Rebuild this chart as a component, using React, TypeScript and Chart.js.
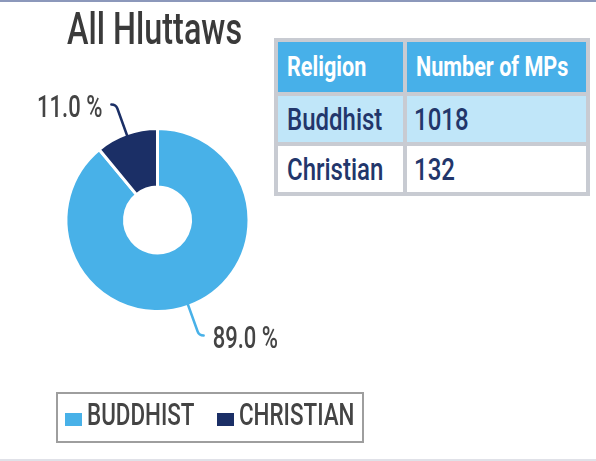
import React, { useEffect, useRef } from 'react';
import { Chart, registerables } from 'chart.js';

Chart.register(...registerables);

// ---- data ----
const titleText = 'All Hluttaws';
const religions = ['Buddhist', 'Christian'];
const sharePercent = [89.0, 11.0];
const mpCounts = [1018, 132];
const tableHeaders = ['Religion', 'Number of MPs'];
const sliceColors = ['#48b1e8', '#1b2f66'];

const FONT = 'Roboto, "Liberation Sans", sans-serif';

let measureCtx: CanvasRenderingContext2D | null = null;
function measure(text: string, font: string): number {
  if (!measureCtx) measureCtx = document.createElement('canvas').getContext('2d');
  measureCtx!.font = font;
  return measureCtx!.measureText(text).width;
}

function Condensed({ text, size, weight = 400, scale, color }: { text: string; size: number; weight?: number; scale: number; color: string }) {
  const w = measure(text, `${weight} ${size}px ${FONT}`) * scale;
  return (
    <span
      style={{
        display: 'inline-block',
        position: 'relative',
        width: w,
        height: size,
        lineHeight: `${size}px`,
        whiteSpace: 'nowrap',
        color,
        fontFamily: FONT,
        fontSize: size,
        fontWeight: weight,
      }}
    >
      <span style={{ position: 'absolute', left: 0, top: 0, transform: `scaleX(${scale})`, transformOrigin: '0 0' }}>{text}</span>
    </span>
  );
}

const leaderPlugin = {
  id: 'leaders',
  afterDatasetsDraw(chart: any) {
    const meta = chart.getDatasetMeta(0);
    const ctx: CanvasRenderingContext2D = chart.ctx;
    const values = chart.data.datasets[0].data as number[];
    meta.data.forEach((arc: any, i: number) => {
      const { x, y, startAngle, endAngle, outerRadius } = arc.getProps(['x', 'y', 'startAngle', 'endAngle', 'outerRadius'], true);
      const mid = (startAngle + endAngle) / 2;
      const cx = Math.cos(mid);
      const cy = Math.sin(mid);
      const sx = cx >= 0 ? 1 : -1;
      const sy = cy >= 0 ? 1 : -1;
      const r0 = outerRadius - 2;
      const r1 = outerRadius + 27;
      const p0x = x + cx * r0, p0y = y + cy * r0;
      const p1x = x + cx * r1, p1y = y + cy * r1;
      const p2x = p1x + 6 * sx, p2y = p1y + 4 * sy;
      const t = 4 / Math.max(Math.abs(cy), 0.2);
      ctx.save();
      ctx.strokeStyle = sliceColors[i];
      ctx.lineWidth = 2.5;
      ctx.lineCap = 'round';
      ctx.beginPath();
      ctx.moveTo(p0x, p0y);
      ctx.lineTo(p1x, p1y);
      ctx.quadraticCurveTo(p1x + cx * t, p2y, p2x, p2y);
      ctx.stroke();
      const label = `${values[i].toFixed(1)} %`;
      ctx.fillStyle = '#444444';
      ctx.font = `500 31px ${FONT}`;
      ctx.textBaseline = 'middle';
      ctx.textAlign = sx > 0 ? 'left' : 'right';
      ctx.translate(p2x + 9 * sx, p2y + 5);
      ctx.scale(0.71, 1);
      ctx.fillText(label, 0, 0);
      ctx.restore();
    });
  },
};

function DonutChart() {
  const ref = useRef<HTMLCanvasElement>(null);
  useEffect(() => {
    if (!ref.current) return;
    const chart = new Chart(ref.current, {
      type: 'doughnut',
      data: {
        labels: religions,
        datasets: [
          {
            data: sharePercent,
            backgroundColor: sliceColors,
            borderColor: '#ffffff',
            borderWidth: 3,
            hoverOffset: 0,
          },
        ],
      },
      options: {
        responsive: false,
        animation: false,
        radius: 91.5,
        cutout: 35.5,
        layout: { padding: { left: 57.5, right: 338.5, top: 120, bottom: 141 } },
        plugins: {
          legend: { display: false },
          tooltip: { enabled: false },
          title: { display: false },
        },
      } as any,
      plugins: [leaderPlugin],
    });
    return () => chart.destroy();
  }, []);
  return <canvas ref={ref} width={596} height={461} style={{ position: 'absolute', left: 0, top: 0, width: 596, height: 461 }} />;
}

export default function App() {
  const colW = [125, 179];
  const rowH = [50, 46, 46];
  const rowBg = ['#c0e6f9', '#ffffff'];
  return (
    <div style={{ position: 'absolute', left: 0, top: 0, width: 596, height: 461, overflow: 'hidden', background: '#ffffff' }}>
      <DonutChart />
      <div style={{ position: 'absolute', left: 0, top: 0, width: 596, height: 2, background: '#8c98bb' }} />
      <div style={{ position: 'absolute', left: 0, top: 459, width: 596, height: 2, background: '#e0e1e8' }} />
      <div style={{ position: 'absolute', left: 67, top: 6 }}>
        <Condensed text={titleText} size={45} weight={500} scale={0.72} color="#3a3a3a" />
      </div>
      <table
        style={{
          position: 'absolute',
          left: 274,
          top: 38,
          width: 316,
          tableLayout: 'fixed',
          borderCollapse: 'separate',
          borderSpacing: 4,
          background: '#c8cbd2',
        }}
      >
        <colgroup>
          {colW.map((w, i) => (
            <col key={i} style={{ width: w }} />
          ))}
        </colgroup>
        <tbody>
          <tr>
            {tableHeaders.map((h, i) => (
              <td key={i} style={{ padding: 0, background: '#47b0e9', height: rowH[0] }}>
                <div style={{ display: 'flex', alignItems: 'center', height: rowH[0] - 6, paddingLeft: 9 }}>
                  <Condensed text={h} size={27} weight={700} scale={0.8} color="#ffffff" />
                </div>
              </td>
            ))}
          </tr>
          {religions.map((r, ri) => (
            <tr key={r}>
              {[r, String(mpCounts[ri])].map((c, ci) => (
                <td key={ci} style={{ padding: 0, background: rowBg[ri], height: rowH[ri + 1] }}>
                  <div style={{ display: 'flex', alignItems: 'center', height: rowH[ri + 1], paddingLeft: ci === 0 ? 9 : 7 }}>
                    <Condensed text={c} size={32} weight={500} scale={0.75} color="#22366b" />
                  </div>
                </td>
              ))}
            </tr>
          ))}
        </tbody>
      </table>
      <div
        style={{
          position: 'absolute',
          left: 56,
          top: 392,
          width: 308,
          height: 51,
          boxSizing: 'border-box',
          border: '2px solid #9e9e9e',
          display: 'flex',
          alignItems: 'flex-start',
          paddingTop: 4,
          paddingLeft: 7,
        }}
      >
        {religions.map((r, i) => (
          <div key={r} style={{ display: 'flex', alignItems: 'flex-start', marginRight: 23 }}>
            <span style={{ display: 'inline-block', width: 17, height: 13, marginTop: 15, marginRight: 5, background: sliceColors[i] }} />
            <Condensed text={r.toUpperCase()} size={32} weight={500} scale={0.7} color="#444444" />
          </div>
        ))}
      </div>
    </div>
  );
}
